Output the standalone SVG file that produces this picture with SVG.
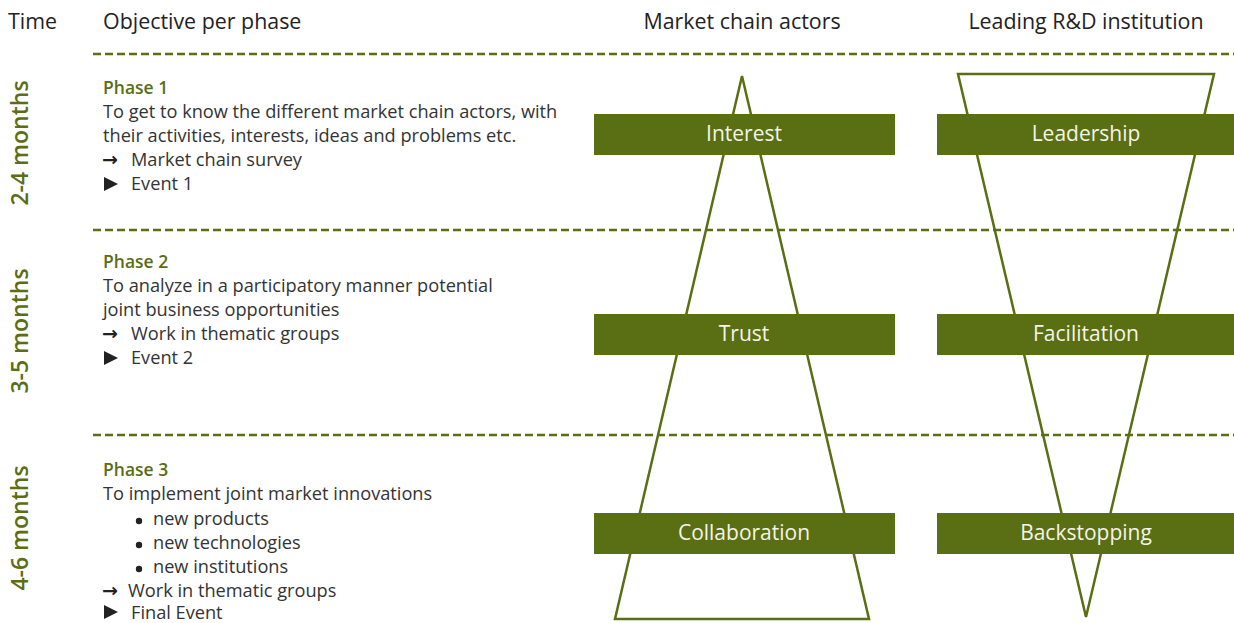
<svg xmlns="http://www.w3.org/2000/svg" width="1234" height="623" viewBox="0 0 1234 623">
<style>
.hdr{font-family:"Open Sans","Noto Sans",sans-serif;font-size:21.4px;fill:#222}
.body{font-family:"Open Sans","Noto Sans",sans-serif;font-size:18.2px;fill:#333}
.arr{font-family:"DejaVu Sans",sans-serif;font-size:19px;font-weight:bold;fill:#222}
.ph{font-family:"Open Sans","Noto Sans",sans-serif;font-size:17.5px;fill:#5a6e14;font-weight:600}
.time{font-family:"Open Sans","Noto Sans",sans-serif;font-size:23px;fill:#5a6e14;font-weight:600}
.bar{fill:#5a6e13}
.bt{font-family:"Open Sans","Noto Sans",sans-serif;font-size:21px;fill:#f4f4e8;text-anchor:middle}
.dash{stroke:#5a6e13;stroke-width:2.5;stroke-dasharray:8 4;fill:none}
.tri{stroke:#5a6e13;stroke-width:2.5;fill:none}
</style>
<rect width="1234" height="623" fill="#fff"/>
<g id="headers">
<text class="hdr" x="8" y="29">Time</text>
<text class="hdr" x="103" y="29">Objective per phase</text>
<text class="hdr" x="742" y="29" text-anchor="middle">Market chain actors</text>
<text class="hdr" x="1086" y="29" text-anchor="middle">Leading R&amp;D institution</text>
</g>
<g id="connectors">
<line class="dash" x1="93" y1="54" x2="1234" y2="54"/>
<line class="dash" x1="93" y1="230" x2="1234" y2="230"/>
<line class="dash" x1="93" y1="435" x2="1234" y2="435"/>
</g>
<g id="time-labels">
<text class="time" transform="translate(28,143) rotate(-90)" text-anchor="middle">2-4 months</text>
<text class="time" transform="translate(28,331) rotate(-90)" text-anchor="middle">3-5 months</text>
<text class="time" transform="translate(28,528) rotate(-90)" text-anchor="middle">4-6 months</text>
</g>
<g id="phase1">
<text class="ph" x="103" y="94">Phase 1</text>
<text class="body" x="103" y="118">To get to know the different market chain actors, with</text>
<text class="body" x="103" y="142">their activities, interests, ideas and problems etc.</text>
<text class="arr" x="102" y="166">→</text><text class="body" x="131" y="166">Market chain survey</text>
<polygon points="104,177 118,184 104,191" fill="#222"/><text class="body" x="131" y="190">Event 1</text>
</g>
<g id="phase2">
<text class="ph" x="103" y="268">Phase 2</text>
<text class="body" x="103" y="292">To analyze in a participatory manner potential</text>
<text class="body" x="103" y="316">joint business opportunities</text>
<text class="arr" x="102" y="340">→</text><text class="body" x="131" y="340">Work in thematic groups</text>
<polygon points="104,351 118,358 104,365" fill="#222"/><text class="body" x="131" y="364">Event 2</text>
</g>
<g id="phase3">
<text class="ph" x="103" y="476">Phase 3</text>
<text class="body" x="103" y="500">To implement joint market innovations</text>
<circle cx="139" cy="521" r="3.2" fill="#222"/><text class="body" x="153" y="525">new products</text>
<circle cx="139" cy="545" r="3.2" fill="#222"/><text class="body" x="153" y="549">new technologies</text>
<circle cx="139" cy="569" r="3.2" fill="#222"/><text class="body" x="153" y="573">new institutions</text>
<text class="arr" x="102" y="597">→</text><text class="body" x="128" y="597">Work in thematic groups</text>
<polygon points="104,605 118,612 104,619" fill="#222"/><text class="body" x="131" y="619">Final Event</text>
</g>
<g id="market-triangle">
<polygon class="tri" points="742,76 869,619 615,619"/>
</g>
<g id="rd-triangle">
<polygon class="tri" points="958,74 1214,74 1086,617"/>
</g>
<g id="interest"><rect class="bar" x="594" y="114" width="301" height="41"/><text class="bt" x="744" y="141">Interest</text></g>
<g id="trust"><rect class="bar" x="594" y="314" width="301" height="41"/><text class="bt" x="744" y="341">Trust</text></g>
<g id="collaboration"><rect class="bar" x="594" y="513" width="301" height="41"/><text class="bt" x="744" y="540">Collaboration</text></g>
<g id="leadership"><rect class="bar" x="937" y="114" width="297" height="41"/><text class="bt" x="1086" y="141">Leadership</text></g>
<g id="facilitation"><rect class="bar" x="937" y="314" width="297" height="41"/><text class="bt" x="1086" y="341">Facilitation</text></g>
<g id="backstopping"><rect class="bar" x="937" y="513" width="297" height="41"/><text class="bt" x="1086" y="540">Backstopping</text></g>
</svg>
